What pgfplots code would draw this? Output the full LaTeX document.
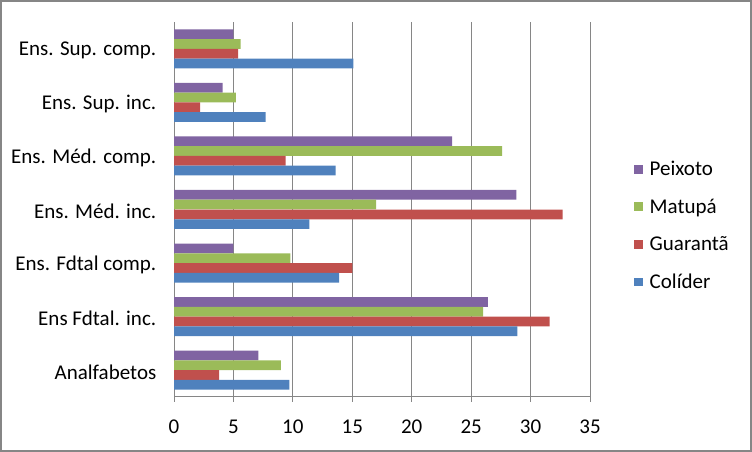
\documentclass[border=0pt]{standalone}
\usepackage{pgfplots}
\pgfplotsset{compat=1.18}
\usepackage{fontspec}
\setmainfont{Carlito}
\definecolor{cCol}{HTML}{4F81BD}
\definecolor{cGua}{HTML}{C0504D}
\definecolor{cMat}{HTML}{9BBB59}
\definecolor{cPei}{HTML}{8064A2}
\definecolor{axgray}{HTML}{868686}
\begin{document}
\begin{tikzpicture}
\useasboundingbox (0,0) rectangle (564pt,339pt);
\draw[axgray, line width=1.5pt] (0.75pt,0.75pt) rectangle (563.25pt,338.25pt);
\begin{axis}[
  at={(130.5pt,41.25pt)}, anchor=south west,
  scale only axis, width=312pt, height=281.25pt,
  font=\fontsize{15.75}{19}\selectfont,
  /pgf/number format/assume math mode=true,
  xbar, bar width=7.31pt,
  xmin=0, xmax=35, xtick={0,5,...,35},
  ymin=-0.5, ymax=6.5,
  ytick={0,...,6},
  yticklabels={Analfabetos, Ens Fdtal. inc., Ens. Fdtal comp., Ens. Méd. inc., Ens. Méd. comp., Ens. Sup. inc., Ens. Sup. comp.},
  minor ytick={-0.5,0.5,...,6.5},
  xticklabel style={yshift=-10pt},
  yticklabel style={xshift=-6pt, yshift=-1.5pt},
  axis lines=left, axis line style={-, draw=axgray, line width=0.75pt},
  tick align=outside, major tick length=3.75pt, minor tick length=3.75pt,
  ytick style={draw=none}, xtick style={draw=axgray, line width=0.75pt},
  minor tick style={draw=axgray, line width=0.75pt},
  xmajorgrids, grid style={draw=axgray, line width=0.75pt},
  legend style={at={(1.106,0.457)}, anchor=west, draw=none, fill=none,
    font=\fontsize{15.75}{19}\selectfont, row sep=12pt, inner sep=0pt},
  legend cell align=left,
  legend image code/.code={\fill[#1] (0pt,-3.3pt) rectangle (6.6pt,3.3pt); \path (9.5pt,0pt);},
]
\addplot[fill=cPei, draw=none, bar shift=10.97pt] coordinates {(7.1,0) (26.4,1) (5.0,2) (28.8,3) (23.4,4) (4.1,5) (5.0,6)};
\addplot[fill=cMat, draw=none, bar shift=3.66pt] coordinates {(9.0,0) (26.0,1) (9.8,2) (17.0,3) (27.6,4) (5.2,5) (5.6,6)};
\addplot[fill=cGua, draw=none, bar shift=-3.66pt] coordinates {(3.8,0) (31.6,1) (15.0,2) (32.7,3) (9.4,4) (2.2,5) (5.4,6)};
\addplot[fill=cCol, draw=none, bar shift=-10.97pt] coordinates {(9.7,0) (28.9,1) (13.9,2) (11.4,3) (13.6,4) (7.7,5) (15.1,6)};
\legend{Peixoto, Matupá, Guarantã, Colíder}
\end{axis}
\end{tikzpicture}
\end{document}
